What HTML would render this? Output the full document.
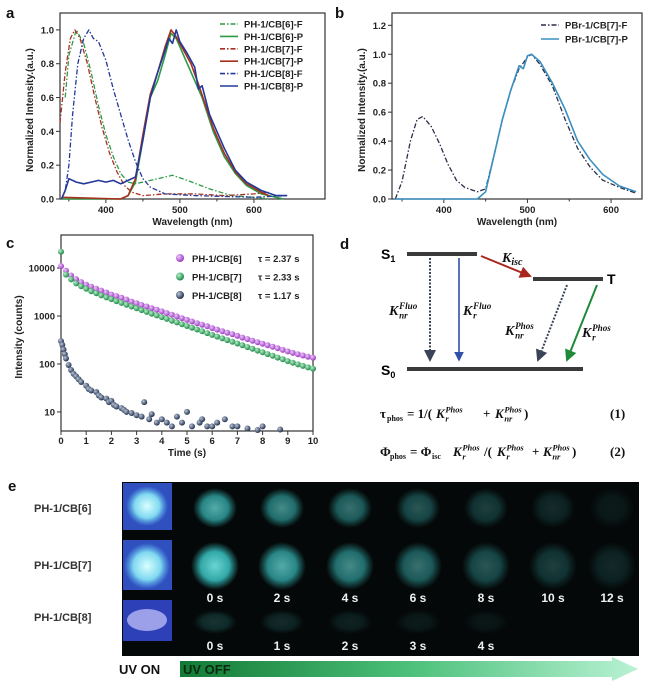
<!DOCTYPE html>
<html><head><meta charset="utf-8"><style>
html,body{margin:0;padding:0;background:#fff;}
svg{display:block;font-family:"Liberation Sans",Arial,sans-serif;}
.tk{font-size:9.5px;font-weight:bold;fill:#222;}
.ti{font-size:10px;font-weight:bold;fill:#222;}
.lg{font-size:9.5px;font-weight:bold;fill:#222;}
.pl{font-size:15px;font-weight:bold;fill:#111;}
.se{font-family:"Liberation Serif",serif;font-weight:bold;fill:#111;}
.it{font-style:italic;}
</style></head><body>
<svg id="fig" width="656" height="683" viewBox="0 0 656 683">
<defs>
<radialGradient id="gp" cx="35%" cy="35%" r="65%"><stop offset="0" stop-color="#f0c8ff"/><stop offset="1" stop-color="#9b3fc0"/></radialGradient>
<radialGradient id="gg" cx="35%" cy="35%" r="65%"><stop offset="0" stop-color="#b8f0c8"/><stop offset="1" stop-color="#1f8a4a"/></radialGradient>
<radialGradient id="gn" cx="35%" cy="35%" r="65%"><stop offset="0" stop-color="#b8c4d8"/><stop offset="1" stop-color="#263450"/></radialGradient>
<radialGradient id="blob" cx="50%" cy="50%" r="50%"><stop offset="0" stop-color="#6fe0dc"/><stop offset="0.6" stop-color="#34b0b0"/><stop offset="1" stop-color="#2a9a9a" stop-opacity="0"/></radialGradient>
<radialGradient id="blobw" cx="50%" cy="50%" r="50%"><stop offset="0" stop-color="#d8ffff"/><stop offset="0.6" stop-color="#80d8f0"/><stop offset="1" stop-color="#5ab8f0" stop-opacity="0"/></radialGradient>
<linearGradient id="arr" x1="0" x2="1" y1="0" y2="0"><stop offset="0" stop-color="#127a34"/><stop offset="0.5" stop-color="#4cc07a"/><stop offset="1" stop-color="#b8f2d4"/></linearGradient>
<marker id="mdk" markerWidth="6" markerHeight="6" refX="5" refY="3" orient="auto"><path d="M0,0 L6,3 L0,6 Z" fill="#3a4458"/></marker>
<marker id="mbl" markerWidth="6" markerHeight="6" refX="5" refY="3" orient="auto"><path d="M0,0 L6,3 L0,6 Z" fill="#2f4fa8"/></marker>
<marker id="mrd" markerWidth="6" markerHeight="6" refX="5" refY="3" orient="auto"><path d="M0,0 L6,3 L0,6 Z" fill="#a8281e"/></marker>
<marker id="mgr" markerWidth="6" markerHeight="6" refX="5" refY="3" orient="auto"><path d="M0,0 L6,3 L0,6 Z" fill="#1f8a3a"/></marker>
</defs>
<g id="pa"></g>
<g id="pb"></g>
<g id="pc"></g>

<g id="pd">
<text class="pl" x="340" y="249">d</text>
<text x="381" y="259" font-size="14" font-weight="bold">S<tspan font-size="9" dy="3">1</tspan></text>
<text x="381" y="375" font-size="14" font-weight="bold">S<tspan font-size="9" dy="3">0</tspan></text>
<text x="607" y="284" font-size="14" font-weight="bold">T</text>
<line x1="407" y1="254" x2="477" y2="254" stroke="#3a3a3a" stroke-width="4"/>
<line x1="533" y1="279" x2="603" y2="279" stroke="#3a3a3a" stroke-width="4"/>
<line x1="407" y1="369" x2="583" y2="369" stroke="#3a3a3a" stroke-width="4"/>
<line x1="430" y1="258" x2="430" y2="360" stroke="#3a4458" stroke-width="2" stroke-dasharray="2,1.5" marker-end="url(#mdk)"/>
<line x1="459" y1="258" x2="459" y2="360" stroke="#2f4fa8" stroke-width="1.6" marker-end="url(#mbl)"/>
<line x1="481" y1="256" x2="530" y2="276" stroke="#a8281e" stroke-width="2" marker-end="url(#mrd)"/>
<line x1="567" y1="285" x2="538" y2="360" stroke="#3a4458" stroke-width="2" stroke-dasharray="2,1.5" marker-end="url(#mdk)"/>
<line x1="597" y1="285" x2="567" y2="360" stroke="#1f8a3a" stroke-width="2" marker-end="url(#mgr)"/>
<text class="se it" x="502" y="262" font-size="14">K<tspan font-size="10" dy="3">isc</tspan></text>

<g>
<text class="se" x="380" y="418" font-size="13">τ</text>
<text class="se" x="387" y="421" font-size="8">phos</text>
<text class="se" x="407" y="418" font-size="13">= 1/(</text>
<text class="se" x="524" y="418" font-size="13">)</text>
<text class="se" x="483" y="418" font-size="13">+</text>
</g>
<text class="se" x="610" y="418" font-size="13">(1)</text>
<g>
<text class="se" x="380" y="456" font-size="13">Φ</text>
<text class="se" x="390" y="459" font-size="8">phos</text>
<text class="se" x="410" y="456" font-size="13">= Φ</text>
<text class="se" x="432" y="459" font-size="8">isc</text>
<text class="se" x="484" y="456" font-size="13">/(</text>
<text class="se" x="532" y="456" font-size="13">+</text>
<text class="se" x="572" y="456" font-size="13">)</text>
</g>
<text class="se" x="610" y="456" font-size="13">(2)</text>
</g>

<g>
<text class="pl" x="8" y="491">e</text>
<text x="34" y="512" font-size="11" font-weight="bold" fill="#333">PH-1/CB[6]</text>
<text x="34" y="569" font-size="11" font-weight="bold" fill="#333">PH-1/CB[7]</text>
<text x="34" y="621" font-size="11" font-weight="bold" fill="#333">PH-1/CB[8]</text>
<rect x="122" y="482" width="517" height="174" fill="#050808"/>
<rect x="123" y="483" width="49" height="47" fill="#3050c0"/>
<rect x="123" y="540" width="49" height="50" fill="#3050c0"/>
<rect x="123" y="600" width="49" height="41" fill="#2e40b8"/>
<ellipse cx="147" cy="506" rx="21" ry="20" fill="url(#blobw)"/>
<ellipse cx="147" cy="566" rx="23" ry="23" fill="url(#blobw)"/>
<ellipse cx="147" cy="620" rx="20" ry="11" fill="#b8b8f4" opacity="0.8"/>
<g id="blobs"></g>
<polygon points="180,661 612,661 612,657 638,669 612,681 612,677 180,677" fill="url(#arr)"/>
<text x="119" y="674" font-size="13" font-weight="bold" fill="#111">UV ON</text>
<text x="183" y="674" font-size="13" font-weight="bold" fill="#0a2a10">UV OFF</text>
</g>
</svg>
<script>
const NS="http://www.w3.org/2000/svg";
function mk(p,t,a){const e=document.createElementNS(NS,t);for(const k in a)e.setAttribute(k,a[k]);p.appendChild(e);return e;}

// ---------- Panel a data ----------
const aWl6F=[345,350,360,370,380,390,400,410,420,430,440,460,490,510,540,570,600,620];
const aI6F=[0.6,0.85,1.0,0.92,0.75,0.55,0.38,0.25,0.15,0.1,0.09,0.11,0.14,0.11,0.06,0.02,0.01,0];
const aWl7F=[338,345,352,358,365,375,385,395,405,415,425,435,450,480,520,560,600,620];
const aI7F=[0.45,0.75,0.95,1.0,0.95,0.8,0.6,0.42,0.27,0.16,0.08,0.04,0.02,0.03,0.03,0.02,0.03,0.04];
const aWl8F=[340,345,350,355,362,370,377,383,390,400,410,420,430,440,450,460,480,520,600,645];
const aI8F=[0,0.05,0.2,0.5,0.8,0.95,1.0,0.95,0.93,0.82,0.65,0.5,0.35,0.22,0.12,0.07,0.03,0.02,0.01,0.02];
const aWl6P=[340,420,430,440,450,460,470,480,488,495,505,515,530,545,560,575,590,610,640];
const aI6P=[0,0,0.02,0.1,0.35,0.6,0.7,0.85,0.98,0.95,0.85,0.75,0.6,0.4,0.25,0.15,0.08,0.03,0];
const aWl7P=[340,420,430,440,450,460,470,480,488,495,505,515,525,535,545,560,575,590,610,620];
const aI7P=[0.01,0,0.02,0.12,0.38,0.62,0.75,0.9,1.0,0.96,0.88,0.8,0.68,0.55,0.42,0.27,0.16,0.09,0.04,0.02];
const aWl8P=[340,345,350,360,370,380,390,400,410,420,430,440,450,460,470,480,485,490,495,500,510,520,525,530,540,550,560,575,590,610,630,645];
const aI8P=[0,0.05,0.12,0.1,0.09,0.1,0.11,0.1,0.11,0.09,0.11,0.13,0.35,0.6,0.75,0.88,0.95,0.92,1.0,0.93,0.86,0.78,0.65,0.67,0.5,0.4,0.3,0.17,0.1,0.05,0.02,0.02];
const aXTicks=[400,500,600];
const aYTicks=[0,0.2,0.4,0.6,0.8,1.0];
const aLegend=["PH-1/CB[6]-F","PH-1/CB[6]-P","PH-1/CB[7]-F","PH-1/CB[7]-P","PH-1/CB[8]-F","PH-1/CB[8]-P"];

// ---------- Panel b data ----------
const bWlF=[342,350,360,368,375,385,395,405,415,425,440,450,460,470,480,490,500,505,515,530,545,560,575,590,610,630];
const bIF=[0,0.12,0.4,0.55,0.57,0.5,0.38,0.24,0.13,0.08,0.05,0.07,0.3,0.55,0.75,0.9,0.98,1.0,0.93,0.78,0.55,0.35,0.22,0.13,0.08,0.04];
const bWlP=[340,440,450,460,470,480,490,495,500,505,515,530,540,545,560,575,590,610,630];
const bIP=[0,0,0.05,0.3,0.55,0.75,0.92,0.9,0.99,1.0,0.95,0.8,0.68,0.62,0.4,0.27,0.17,0.09,0.05];
const bXTicks=[400,500,600];
const bYTicks=[0,0.2,0.4,0.6,0.8,1.0,1.2];
const bLegend=["PBr-1/CB[7]-F","PBr-1/CB[7]-P"];

// ---------- Panel c data ----------
const cT=[0,0.2,0.4,0.6,0.8,1,1.2,1.4,1.6,1.8,2,2.2,2.4,2.6,2.8,3,3.2,3.4,3.6,3.8,4,4.2,4.4,4.6,4.8,5,5.2,5.4,5.6,5.8,6,6.2,6.4,6.6,6.8,7,7.2,7.4,7.6,7.8,8,8.2,8.4,8.6,8.8,9,9.2,9.4,9.6,9.8,10];
const cCB6=[11000,8800,7000,5900,5100,4500,4100,3700,3400,3100,2800,2600,2400,2200,2000,1850,1700,1580,1460,1350,1250,1150,1060,980,900,830,770,710,660,610,560,520,480,450,415,385,355,330,305,285,265,245,228,212,197,183,170,160,150,142,135];
const cCB7=[22000,7300,5800,4800,4200,3700,3300,3000,2700,2450,2250,2050,1880,1720,1580,1450,1330,1220,1120,1030,950,870,800,735,675,620,570,525,480,440,405,372,342,315,290,267,245,225,207,190,175,161,148,136,125,115,106,98,91,85,80];
const cT8=[0,0.05,0.1,0.15,0.2,0.3,0.4,0.5,0.6,0.7,0.8,1,1.1,1.2,1.4,1.5,1.6,1.8,1.9,2,2.1,2.2,2.4,2.5,2.6,2.8,3,3.2,3.3,3.5,3.6,3.8,4,4.2,4.4,4.6,4.8,5,5.2,5.5,5.6,5.8,6,6.2,6.5,6.8,7,7.4,7.8,8,8.7];
const cCB8=[300,250,200,160,130,95,75,62,55,48,42,35,30,28,26,22,20,19,16,17,14,13,12,11,10,9.5,8.5,8,16,7,9,6,7,6,5,8,6,10,5,6,7,5,5,6,7,5,5,4.5,4.2,5,4.3];
const cXTicks=[0,1,2,3,4,5,6,7,8,9,10];
const cYTicks=[10,100,1000,10000];
const cLegend=["PH-1/CB[6]","PH-1/CB[7]","PH-1/CB[8]"];
const cTau=["τ = 2.37 s","τ = 2.33 s","τ = 1.17 s"];

// ---------- Panel e data ----------
const eRow1Bright=[0.75,0.6,0.48,0.36,0.25,0.16,0.09];
const eRow2Bright=[0.95,0.75,0.6,0.48,0.36,0.25,0.15];
const eRow3Bright=[0.2,0.16,0.12,0.09,0.07];
const eRow2Labels=["0 s","2 s","4 s","6 s","8 s","10 s","12 s"];
const eRow3Labels=["0 s","1 s","2 s","3 s","4 s"];

function kSym(g,x,y,sup,sub,fs,name){
  const grp=mk(g,'g',{});
  
  
  const k=mk(grp,'text',{x:x,y:y,class:'se it','font-size':fs});k.textContent='K';
  const s1=mk(grp,'text',{x:x+fs*0.72,y:y-fs*0.42,class:'se it','font-size':fs*0.65});s1.textContent=sup;
  const s2=mk(grp,'text',{x:x+fs*0.72,y:y+fs*0.25,class:'se it','font-size':fs*0.65});s2.textContent=sub;
}
(function(){
  const g=document.getElementById('pd');
  kSym(g,389,315,'Fluo','nr',14,'knr-fluo-label');
  kSym(g,463,315,'Fluo','r',14,'kr-fluo-label');
  kSym(g,505,335,'Phos','nr',14,'knr-phos-label');
  kSym(g,582,337,'Phos','r',14,'kr-phos-label');
  kSym(g,436,418,'Phos','r',13,'eq1-kr');
  kSym(g,495,418,'Phos','nr',13,'eq1-knr');
  kSym(g,453,456,'Phos','r',13,'eq2-kr');
  kSym(g,497,456,'Phos','r',13,'eq2-kr-denominator');
  kSym(g,543,456,'Phos','nr',13,'eq2-knr');
})();

function spectrumPanel(g,o){
  const X=v=>o.x0+(v-o.xmin)/(o.xmax-o.xmin)*(o.x1-o.x0);
  const Y=v=>o.y1-(v-o.ymin)/(o.ymax-o.ymin)*(o.y1-o.y0);
  const box=mk(g,'rect',{x:o.x0,y:o.y0,width:o.x1-o.x0,height:o.y1-o.y0,fill:'none',stroke:'#333','stroke-width':1.2});
  
  
  o.xt.forEach(v=>{
    const l=mk(g,'line',{x1:X(v),x2:X(v),y1:o.y1,y2:o.y1+4,stroke:'#333'});
    
    
    const m=mk(g,'line',{x1:X(v-50),x2:X(v-50),y1:o.y1,y2:o.y1+2.5,stroke:'#333'});
    
    
    const t=mk(g,'text',{x:X(v),y:o.y1+14,'text-anchor':'middle',class:'tk'});t.textContent=v;
    
    
  });
  o.yt.forEach(v=>{
    const l=mk(g,'line',{x1:o.x0-4,x2:o.x0,y1:Y(v),y2:Y(v),stroke:'#333'});
    
    
    const t=mk(g,'text',{x:o.x0-6,y:Y(v)+3.5,'text-anchor':'end',class:'tk'});t.textContent=v.toFixed(1);
    
    
  });
  const xt=mk(g,'text',{x:(o.x0+o.x1)/2,y:o.y1+26,'text-anchor':'middle',class:'ti'});xt.textContent='Wavelength (nm)';
  
  
  const yt=mk(g,'text',{x:0,y:0,'text-anchor':'middle',class:'ti',transform:`translate(${o.x0-27},${(o.y0+o.y1)/2+4}) rotate(-90)`});yt.textContent='Normalized Intensity.(a.u.)';
  
  
  const pl=mk(g,'text',{x:o.lx,y:18,class:'pl'});pl.textContent=o.label;
  
  
  o.series.forEach((s,i)=>{
    const pts=s.x.map((v,j)=>X(v).toFixed(1)+','+Y(s.y[j]).toFixed(1)).join(' ');
    const p=mk(g,'polyline',{points:pts,fill:'none',stroke:s.c,'stroke-width':s.dash?1.3:1.6,'stroke-dasharray':s.dash?'5,2,1.5,2':'none','stroke-linejoin':'round'});
    
    
    const ly=o.legY+i*o.legDy;
    const ll=mk(g,'line',{x1:o.legX,x2:o.legX+18,y1:ly,y2:ly,stroke:s.c,'stroke-width':1.6,'stroke-dasharray':s.dash?'5,2,1.5,2':'none'});
    
    
    const lt=mk(g,'text',{x:o.legX+24,y:ly+3.5,class:'lg'});lt.textContent=s.n;
    
    
  });
}
spectrumPanel(document.getElementById('pa'),{x0:60,x1:325,y0:13,y1:199,xmin:338,xmax:696,ymin:0,ymax:1.1,xt:aXTicks,yt:aYTicks,lx:6,label:'a',legX:220,legY:24,legDy:12.4,
 series:[{n:aLegend[0],x:aWl6F,y:aI6F,c:'#2e9a48',dash:1},{n:aLegend[1],x:aWl6P,y:aI6P,c:'#2e9a48'},{n:aLegend[2],x:aWl7F,y:aI7F,c:'#a8301e',dash:1},{n:aLegend[3],x:aWl7P,y:aI7P,c:'#a8301e'},{n:aLegend[4],x:aWl8F,y:aI8F,c:'#23389a',dash:1},{n:aLegend[5],x:aWl8P,y:aI8P,c:'#23389a'}]});
spectrumPanel(document.getElementById('pb'),{x0:392,x1:642,y0:13,y1:199,xmin:338,xmax:637,ymin:0,ymax:1.285,xt:bXTicks,yt:bYTicks,lx:335,label:'b',legX:541,legY:25,legDy:14,
 series:[{n:bLegend[0],x:bWlF,y:bIF,c:'#2a2e48',dash:1},{n:bLegend[1],x:bWlP,y:bIP,c:'#3a8fc0'}]});

// Panel c
(function(){
  const g=document.getElementById('pc');
  const x0=61,x1=313,y0=235,y1=431,xmin=0,xmax=10,lmin=Math.log10(4),lmax=Math.log10(49000);
  const X=v=>x0+(v-xmin)/(xmax-xmin)*(x1-x0);
  const Y=v=>y1-(Math.log10(v)-lmin)/(lmax-lmin)*(y1-y0);
  const box=mk(g,'rect',{x:x0,y:y0,width:x1-x0,height:y1-y0,fill:'none',stroke:'#333','stroke-width':1.2});
  
  
  cXTicks.forEach(v=>{
    const l=mk(g,'line',{x1:X(v),x2:X(v),y1:y1,y2:y1+4,stroke:'#333'});
    
    
    const t=mk(g,'text',{x:X(v),y:y1+13,'text-anchor':'middle',class:'tk'});t.textContent=v;
    
    
  });
  cYTicks.forEach(v=>{
    const l=mk(g,'line',{x1:x0-4,x2:x0,y1:Y(v),y2:Y(v),stroke:'#333'});
    
    
    const t=mk(g,'text',{x:x0-6,y:Y(v)+3.5,'text-anchor':'end',class:'tk'});t.textContent=v;
    
    
  });
  const xt=mk(g,'text',{x:(x0+x1)/2,y:y1+25,'text-anchor':'middle',class:'ti'});xt.textContent='Time (s)';
  
  
  const yt=mk(g,'text',{x:0,y:0,'text-anchor':'middle',class:'ti',transform:`translate(${x0-39},${(y0+y1)/2+4}) rotate(-90)`});yt.textContent='Intensity (counts)';
  
  
  const pl=mk(g,'text',{x:6,y:248,class:'pl'});pl.textContent='c';
  
  
  const sets=[[cT,cCB6,'url(#gp)'],[cT,cCB7,'url(#gg)'],[cT8,cCB8,'url(#gn)']];
  sets.forEach((s,i)=>{
    s[0].forEach((t,j)=>{
      const v=s[1][j]; if(v<4) return;
      const c=mk(g,'circle',{cx:X(t).toFixed(1),cy:Y(v).toFixed(1),r:3,fill:s[2]});
      
      
    });
    const ly=258+i*18.5;
    const lc=mk(g,'circle',{cx:180,cy:ly,r:4,fill:s[2]});
    
    
    const lt=mk(g,'text',{x:192,y:ly+4,class:'lg','font-size':'10'});lt.textContent=cLegend[i];
    
    
    const tt=mk(g,'text',{x:258,y:ly+4,class:'lg','font-size':'10'});tt.textContent=cTau[i];
    
    
  });
})();

// Panel e blobs
(function(){
  const g=document.getElementById('blobs');
  const cols=[215,282,350,418,486,553,612];
  eRow1Bright.forEach((b,i)=>{
    const e=mk(g,'ellipse',{cx:cols[i],cy:508,rx:22,ry:20,fill:'url(#blob)',opacity:b});
    
    
  });
  eRow2Bright.forEach((b,i)=>{
    const e=mk(g,'ellipse',{cx:cols[i],cy:566,rx:24,ry:24,fill:'url(#blob)',opacity:b});
    
    
    const t=mk(g,'text',{x:cols[i],y:602,'text-anchor':'middle','font-size':'12','font-weight':'bold',fill:'#f0f0f0'});t.textContent=eRow2Labels[i];
    
    
  });
  eRow3Bright.forEach((b,i)=>{
    const e=mk(g,'ellipse',{cx:cols[i],cy:622,rx:22,ry:12,fill:'url(#blob)',opacity:b});
    
    
    const t=mk(g,'text',{x:cols[i],y:650,'text-anchor':'middle','font-size':'12','font-weight':'bold',fill:'#f0f0f0'});t.textContent=eRow3Labels[i];
    
    
  });
})();
</script>
</body></html>
